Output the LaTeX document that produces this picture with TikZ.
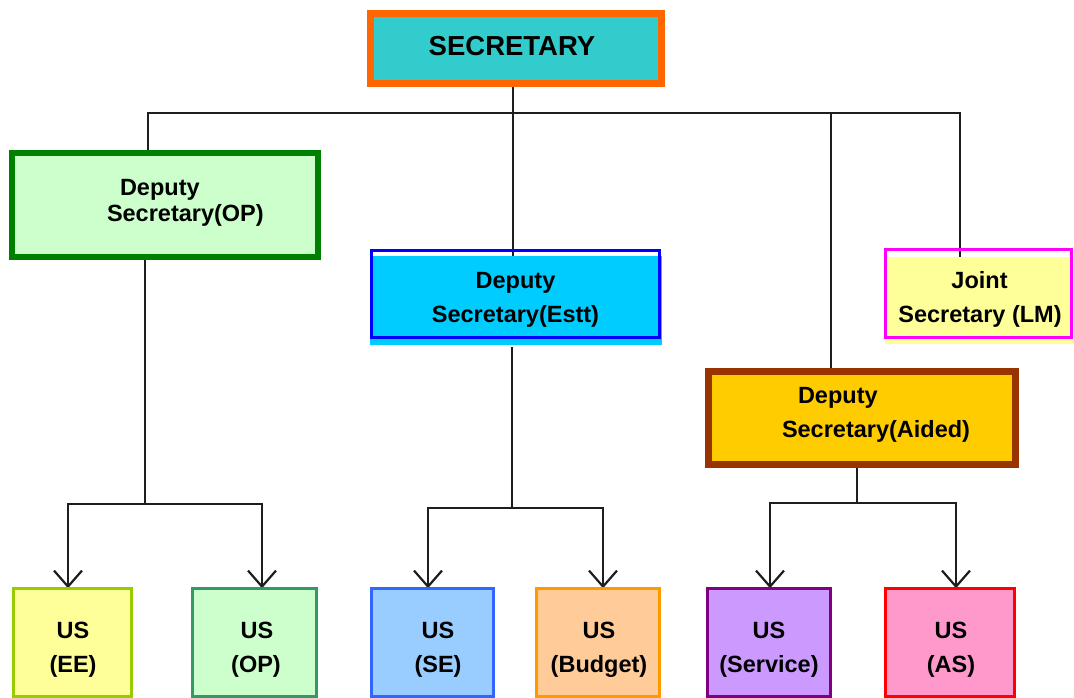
\documentclass[tikz,border=0pt]{standalone}
\usepackage{fontspec}
\setmainfont{Liberation Sans}
\usetikzlibrary{arrows.meta}
\pgfdeclarelayer{bg}
\pgfsetlayers{bg,main}
\definecolor{secfill}{HTML}{33CCCC}
\definecolor{secdraw}{HTML}{FF6600}
\definecolor{opfill}{HTML}{CCFFCC}
\definecolor{opdraw}{HTML}{008000}
\definecolor{esttfill}{HTML}{00CCFF}
\definecolor{esttdraw}{HTML}{0000FF}
\definecolor{jsfill}{HTML}{FFFF99}
\definecolor{jsdraw}{HTML}{FF00FF}
\definecolor{aidfill}{HTML}{FFCC00}
\definecolor{aiddraw}{HTML}{993300}
\definecolor{eedraw}{HTML}{99CC00}
\definecolor{uopdraw}{HTML}{339966}
\definecolor{sefill}{HTML}{99CCFF}
\definecolor{sedraw}{HTML}{3366FF}
\definecolor{budfill}{HTML}{FFCC99}
\definecolor{buddraw}{HTML}{FF9900}
\definecolor{svfill}{HTML}{CC99FF}
\definecolor{svdraw}{HTML}{800080}
\definecolor{asfill}{HTML}{FF99CC}
\definecolor{asdraw}{HTML}{FF0000}
\definecolor{linecol}{HTML}{1E1E1E}
\tikzset{
  box/.style={rectangle, inner sep=0pt, outer sep=0pt},
  txt/.style={inner sep=0pt, outer sep=0pt, anchor=base, font=\fontsize{23.5pt}{28pt}\selectfont\bfseries},
  bigtxt/.style={inner sep=0pt, outer sep=0pt, anchor=base, font=\fontsize{27.5pt}{32pt}\selectfont\bfseries},
  conn/.style={draw=linecol, line width=1.9pt, line join=miter},
  arr/.style={conn, line width=2.2pt, {Straight Barb[length=16pt,width=28pt,line width=2.2pt]}-{Straight Barb[length=16pt,width=28pt,line width=2.2pt]}},
  usbox/.style={box, line width=3pt, minimum height=108.5pt},
}
\begin{document}
\begin{tikzpicture}[x=1pt,y=-1pt]
\useasboundingbox (0,0) rectangle (1074,698);
\begin{pgfonlayer}{bg}
\fill[white] (0,0) rectangle (1074,698);
\end{pgfonlayer}

% top
\node[box, fill=secfill, draw=secdraw, line width=7pt, minimum width=291pt, minimum height=70pt] (sec) at (516,48.5) {};
\node[bigtxt] (tsec) at (512,56) {SECRETARY};

% Deputy Secretary (OP)
\node[box, fill=opfill, draw=opdraw, line width=6pt, minimum width=306pt, minimum height=104pt] (dsop) at (165,205) {};
\node[txt, anchor=base west] (tdsop1) at (120,195) {Deputy};
\node[txt, anchor=base west] (tdsop2) at (107,222) {Secretary(OP)};

% Deputy Secretary (Estt)
\node[box, fill=esttfill, minimum width=292pt, minimum height=89pt] (esttf) at (516,300.5) {};
\node[box, draw=esttdraw, line width=3pt, minimum width=288pt, minimum height=87pt] (estt) at (515.5,294) {};
\node[txt] (testt1) at (515.5,288) {Deputy};
\node[txt] (testt2) at (515.5,322) {Secretary(Estt)};

% Joint Secretary (LM)
\node[box, fill=jsfill, minimum width=189pt, minimum height=87pt] (jsf) at (979.5,300.5) {};
\node[box, draw=jsdraw, line width=3pt, minimum width=186pt, minimum height=88pt] (js) at (978.5,293.5) {};
\node[txt] (tjs1) at (979.5,288) {Joint};
\node[txt] (tjs2) at (980,322) {Secretary (LM)};

% Deputy Secretary (Aided)
\node[box, fill=aidfill, draw=aiddraw, line width=7pt, minimum width=307pt, minimum height=93pt] (aid) at (862,418) {};
\node[txt, anchor=base west] (taid1) at (798,403) {Deputy};
\node[txt, anchor=base west] (taid2) at (782,437) {Secretary(Aided)};

% US boxes
\node[usbox, fill=jsfill, draw=eedraw, minimum width=118pt] (ee) at (72.5,642.5) {};
\node[usbox, fill=opfill, draw=uopdraw, minimum width=124pt] (uop) at (254.5,642.5) {};
\node[usbox, fill=sefill, draw=sedraw, minimum width=122pt] (se) at (432.5,642.5) {};
\node[usbox, fill=budfill, draw=buddraw, minimum width=123pt] (bud) at (598,642.5) {};
\node[usbox, fill=svfill, draw=svdraw, minimum width=123pt] (sv) at (769,642.5) {};
\node[usbox, fill=asfill, draw=asdraw, minimum width=129pt] (as) at (950,642.5) {};

\node[txt] (tee1) at (73,638) {US};
\node[txt] (tee2) at (73,672) {(EE)};
\node[txt] (tuop1) at (257,638) {US};
\node[txt] (tuop2) at (256,672) {(OP)};
\node[txt] (tse1) at (438,638) {US};
\node[txt] (tse2) at (438,672) {(SE)};
\node[txt] (tbud1) at (599,638) {US};
\node[txt] (tbud2) at (599,672) {(Budget)};
\node[txt] (tsv1) at (769,638) {US};
\node[txt] (tsv2) at (769,672) {(Service)};
\node[txt] (tas1) at (951,638) {US};
\node[txt] (tas2) at (951,672) {(AS)};

% connector coordinates
\coordinate (bl) at (148,113);
\coordinate (bs) at (513,113);
\coordinate (ba) at (831,113);
\coordinate (br) at (960,113);
\coordinate (s1) at (145,504);
\coordinate (a1) at (68,504);
\coordinate (a2) at (262,504);
\coordinate (s2) at (512,508);
\coordinate (b1) at (428,508);
\coordinate (b2) at (603,508);
\coordinate (s3) at (857,503);
\coordinate (c1) at (770,503);
\coordinate (c2) at (956,503);

\begin{pgfonlayer}{bg}
\draw[conn] (dsop.north -| bl) -- (bl) -- (br) -- (jsf.north -| br);
\draw[conn] (sec.south -| bs) -- (esttf.north -| bs);
\draw[conn] (ba) -- (aid.north -| ba);
\draw[conn] (dsop.south -| s1) -- (s1);
\draw[arr] (ee.north -| a1) -- (a1) -- (a2) -- (uop.north -| a2);
\draw[conn] ([yshift=-2pt]esttf.south -| s2) -- (s2);
\draw[arr] (se.north -| b1) -- (b1) -- (b2) -- (bud.north -| b2);
\draw[conn] (aid.south -| s3) -- (s3);
\draw[arr] (sv.north -| c1) -- (c1) -- (c2) -- (as.north -| c2);
\end{pgfonlayer}
\end{tikzpicture}
\end{document}
